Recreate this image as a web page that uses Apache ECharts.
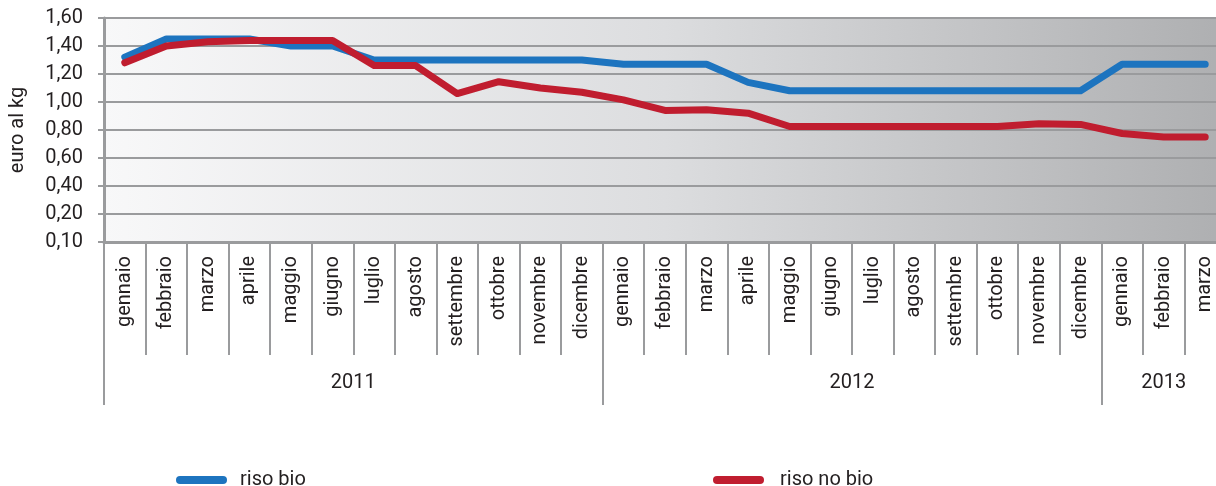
<!DOCTYPE html>
<html><head><meta charset="utf-8">
<script src="https://cdn.jsdelivr.net/npm/echarts@6/dist/echarts.min.js"></script>
<style>html,body{margin:0;padding:0;background:#fff}#c{width:1216px;height:486px}</style>
</head><body><div id="c"></div>
<script>
var months = ['gennaio','febbraio','marzo','aprile','maggio','giugno','luglio','agosto','settembre','ottobre','novembre','dicembre',
  'gennaio','febbraio','marzo','aprile','maggio','giugno','luglio','agosto','settembre','ottobre','novembre','dicembre',
  'gennaio','febbraio','marzo'];
var years = ['2011','2012','2013'];
var yearStart = [0, 12, 24];
var yearMid = [6, 18, 25.5];
var risoBio = [1.32,1.45,1.45,1.45,1.40,1.40,1.30,1.30,1.30,1.30,1.30,1.30,
  1.27,1.27,1.27,1.14,1.08,1.08,1.08,1.08,1.08,1.08,1.08,1.08,
  1.27,1.27,1.27];
var risoNoBio = [1.28,1.40,1.43,1.44,1.44,1.44,1.26,1.26,1.06,1.145,1.10,1.07,
  1.015,0.94,0.945,0.92,0.825,0.825,0.825,0.825,0.825,0.825,0.845,0.84,
  0.775,0.75,0.75];
var yTicks = {0:'0,10'};

var chart = echarts.init(document.getElementById('c'));
var font = 'Roboto';
var txt = '#231f20';
var gridCol = '#9a9b9d';
var pill = 'path://M4,0 H47 A4,4 0 0 1 47,8 H4 A4,4 0 0 1 4,0 Z';
chart.setOption({
  animation: false,
  textStyle: {fontFamily: font},
  grid: {left: 104, width: 1122, top: 18, bottom: 244, show: true, borderWidth: 0,
    outerBoundsMode: 'none', containLabel: false,
    backgroundColor: new echarts.graphic.LinearGradient(0,0,1,0,[
      {offset:0,color:'#f8f8f9'},{offset:0.5,color:'#dcdddf'},{offset:1,color:'#aeafb1'}])},
  legend: [
    {data:['riso bio'], left: 171, top: 465, icon: pill, itemWidth: 51, itemHeight: 8,
     textStyle:{fontFamily: font, fontSize: 20, color: txt, padding:[0,0,0,8]}},
    {data:['riso no bio'], left: 708, top: 465, icon: pill, itemWidth: 51, itemHeight: 8,
     textStyle:{fontFamily: font, fontSize: 20, color: txt, padding:[0,0,0,11]}}
  ],
  xAxis: [
    {type:'category', data: months, boundaryGap: true, position:'bottom',
     axisLine:{show:true, lineStyle:{color: gridCol, width: 3}},
     axisTick:{show:true, interval:0, length: 113, lineStyle:{color: gridCol, width: 2}},
     axisLabel:{interval:0, rotate:90, margin: 14, fontSize: 20, color: txt, fontFamily: font}},
    {type:'value', min:0, max:27, position:'bottom',
     axisLine:{show:false}, splitLine:{show:false},
     axisTick:{show:true, customValues: yearStart, length: 163, lineStyle:{color: gridCol, width: 2}},
     axisLabel:{customValues: yearMid, margin: 131, fontSize: 20, color: txt, fontFamily: font,
       formatter: function(v){ var i = yearMid.indexOf(v); return i >= 0 ? years[i] : ''; }}}
  ],
  yAxis: {type:'value', min:0, max:1.6, interval:0.2,
    name:'euro al kg', nameLocation:'middle', nameGap: 76, nameRotate: 90,
    nameTextStyle:{fontSize: 20, color: txt, fontFamily: font},
    axisLine:{show:true, lineStyle:{color: gridCol, width: 3}},
    axisTick:{show:true, length: 6, lineStyle:{color: gridCol, width: 2}},
    splitLine:{show:true, lineStyle:{color: gridCol, width: 2}},
    axisLabel:{margin: 21, fontSize: 20, color: txt, fontFamily: font,
      formatter: function(v){ return yTicks[v] !== undefined ? yTicks[v] : v.toFixed(2).replace('.', ','); }}},
  series: [
    {name:'riso bio', type:'line', data: risoBio, xAxisIndex: 0, symbol:'none', color:'#1d74bf',
     lineStyle:{width: 7, cap:'round', join:'round'}},
    {name:'riso no bio', type:'line', data: risoNoBio, xAxisIndex: 0, symbol:'none', color:'#c01d2f',
     lineStyle:{width: 7, cap:'round', join:'round'}}
  ]
});
</script></body></html>
